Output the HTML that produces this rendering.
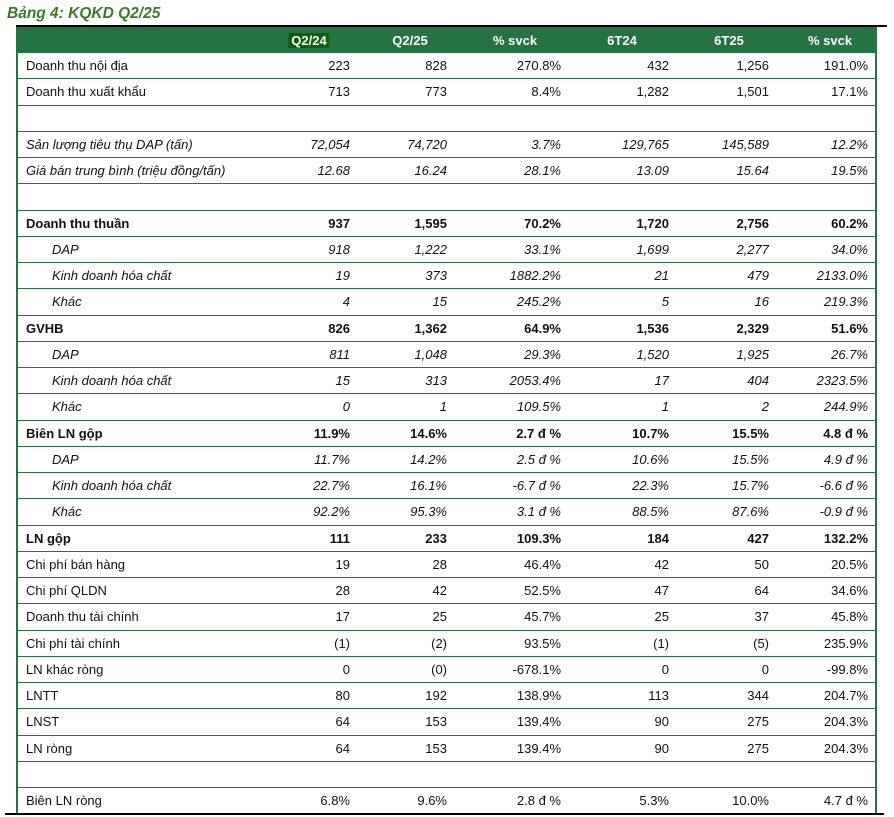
<!DOCTYPE html>
<html><head><meta charset="utf-8"><style>
body{margin:0;width:894px;height:817px;background:#fff;font-family:"Liberation Sans",sans-serif;position:relative;overflow:hidden}
.title{position:absolute;left:7px;top:5px;font-size:15.5px;font-weight:bold;font-style:italic;color:#3b7a2a}
.tl{position:absolute;left:16px;top:25px;width:871px;height:2px;background:#000}
.bl{position:absolute;left:5px;top:813px;width:879px;height:2px;background:#000}
.tbl{position:absolute;left:16px;top:27px;width:861px;border-left:2px solid #2a7341;border-right:2px solid #2a7341;box-sizing:border-box}
.hd{height:26px;background:#257340;color:#fff;font-weight:bold;font-size:13px;position:relative}
.hd span{position:absolute;top:6px;transform:translateX(-50%)}
.r{height:26.25px;border-bottom:1px solid #2a7341;box-sizing:border-box;position:relative;font-size:13px;color:#111}
.r span{position:absolute;top:5px}
.r .l{left:8px}
.r.s .l{left:34px}
.i{font-style:italic}.b{font-weight:bold}
</style></head><body>
<div class="title">Bảng 4: KQKD Q2/25</div>
<div class="tl"></div>
<div class="tbl">
<div class="hd"><span style="left:291px;background:#0c5e14;padding:0 3px">Q2/24</span><span style="left:392px">Q2/25</span><span style="left:497px">% svck</span><span style="left:604px">6T24</span><span style="left:711px">6T25</span><span style="left:812px">% svck</span></div>
<div id="rows"></div>
</div>
<div class="bl"></div>
<script>
const R=[
["Doanh thu nội địa","223","828","270.8%","432","1,256","191.0%",""],
["Doanh thu xuất khẩu","713","773","8.4%","1,282","1,501","17.1%",""],
[""],
["Sản lượng tiêu thụ DAP (tấn)","72,054","74,720","3.7%","129,765","145,589","12.2%","i"],
["Giá bán trung bình (triệu đồng/tấn)","12.68","16.24","28.1%","13.09","15.64","19.5%","i"],
[""],
["Doanh thu thuần","937","1,595","70.2%","1,720","2,756","60.2%","b"],
["DAP","918","1,222","33.1%","1,699","2,277","34.0%","i s"],
["Kinh doanh hóa chất","19","373","1882.2%","21","479","2133.0%","i s"],
["Khác","4","15","245.2%","5","16","219.3%","i s"],
["GVHB","826","1,362","64.9%","1,536","2,329","51.6%","b"],
["DAP","811","1,048","29.3%","1,520","1,925","26.7%","i s"],
["Kinh doanh hóa chất","15","313","2053.4%","17","404","2323.5%","i s"],
["Khác","0","1","109.5%","1","2","244.9%","i s"],
["Biên LN gộp","11.9%","14.6%","2.7 đ %","10.7%","15.5%","4.8 đ %","b"],
["DAP","11.7%","14.2%","2.5 đ %","10.6%","15.5%","4.9 đ %","i s"],
["Kinh doanh hóa chất","22.7%","16.1%","-6.7 đ %","22.3%","15.7%","-6.6 đ %","i s"],
["Khác","92.2%","95.3%","3.1 đ %","88.5%","87.6%","-0.9 đ %","i s"],
["LN gộp","111","233","109.3%","184","427","132.2%","b"],
["Chi phí bán hàng","19","28","46.4%","42","50","20.5%",""],
["Chi phí QLDN","28","42","52.5%","47","64","34.6%",""],
["Doanh thu tài chính","17","25","45.7%","25","37","45.8%",""],
["Chi phí tài chính","(1)","(2)","93.5%","(1)","(5)","235.9%",""],
["LN khác ròng","0","(0)","-678.1%","0","0","-99.8%",""],
["LNTT","80","192","138.9%","113","344","204.7%",""],
["LNST","64","153","139.4%","90","275","204.3%",""],
["LN ròng","64","153","139.4%","90","275","204.3%",""],
[""],
["Biên LN ròng","6.8%","9.6%","2.8 đ %","5.3%","10.0%","4.7 đ %",""]];
const E=[334,431,545,653,753,852];
let h="";
R.forEach((r,k)=>{const c=(r[7]||"").split(" ");let cls="r"+(c.includes("s")?" s":"");let st=(c.includes("i")?"i ":"")+(c.includes("b")?"b":"");
h+=`<div class="${cls}${k==R.length-1?'" style="border-bottom:none':''}">`;
if(r.length>1){h+=`<span class="l ${st}">${r[0]}</span>`;for(let j=0;j<6;j++)h+=`<span class="${st}" style="right:${859-E[j]}px">${r[j+1]}</span>`;}
h+="</div>";});
document.getElementById("rows").innerHTML=h;
</script>
</body></html>
